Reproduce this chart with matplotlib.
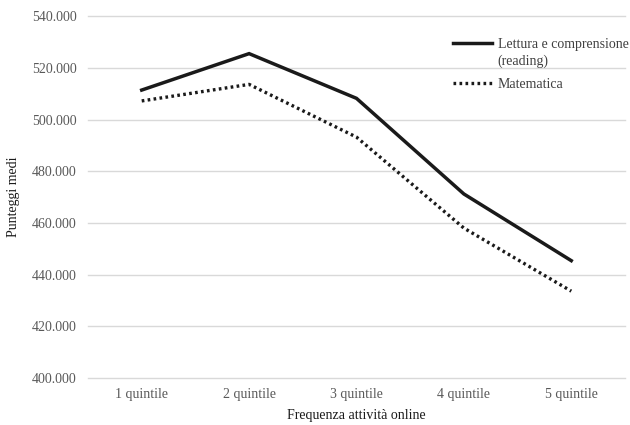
import matplotlib
matplotlib.use("Agg")
import matplotlib.pyplot as plt
from matplotlib.ticker import FuncFormatter, MultipleLocator

categories = ["1 quintile", "2 quintile", "3 quintile", "4 quintile", "5 quintile"]
reading = [511.4, 525.5, 508.2, 471.2, 445.4]
matematica = [507.2, 513.6, 493.2, 458.0, 433.6]

plt.rcParams['font.family'] = ['Liberation Serif', 'DejaVu Serif']

fig = plt.figure(figsize=(6.3, 4.25), dpi=100)
ax = fig.add_axes([0.1397, 0.1106, 0.8523, 0.8514])

x = list(range(len(categories)))
ax.plot(x, reading, color='#1a1a1a', lw=2.5, solid_joinstyle='miter',
        label="Lettura e comprensione")
ax.plot(x, matematica, color='#1a1a1a', lw=2.4, linestyle=(0, (0.8, 1.0)),
        label="Matematica")

ax.set_xlim(-0.5, len(categories) - 0.5)
ax.set_ylim(400, 540)
ax.yaxis.set_major_locator(MultipleLocator(20))
ax.yaxis.set_major_formatter(FuncFormatter(lambda v, p: f"{v:.3f}"))
ax.set_xticks(x)
ax.set_xticklabels(categories)
ax.grid(axis='y', color='#d9d9d9', lw=1)
for gl in ax.get_ygridlines():
    gl.set_clip_on(False)
ax.set_axisbelow(True)
for s in ax.spines.values():
    s.set_visible(False)
ax.tick_params(axis='both', length=0, labelsize=10, colors='#595959', pad=8)
ax.tick_params(axis='x', pad=7)

ax.set_ylabel("Punteggi medi", fontsize=10, color='#1a1a1a', labelpad=9)
ax.set_xlabel("Frequenza attività online", fontsize=10, color='#1a1a1a', labelpad=6)

leg = ax.legend(loc='upper left', bbox_to_anchor=(0.670, 0.955), frameon=False,
                fontsize=10, handlelength=2.8, handletextpad=0.4, labelspacing=1.95,
                borderaxespad=0)
for t in leg.get_texts():
    t.set_color('#404040')

fig.canvas.draw()
bb = leg.get_texts()[0].get_window_extent()
fig.text(bb.x0 / fig.bbox.width, (bb.y0 - 17) / fig.bbox.height, "(reading)",
         fontsize=10, color='#404040', ha='left', va='bottom')

fig.savefig("out.png", dpi=100)
